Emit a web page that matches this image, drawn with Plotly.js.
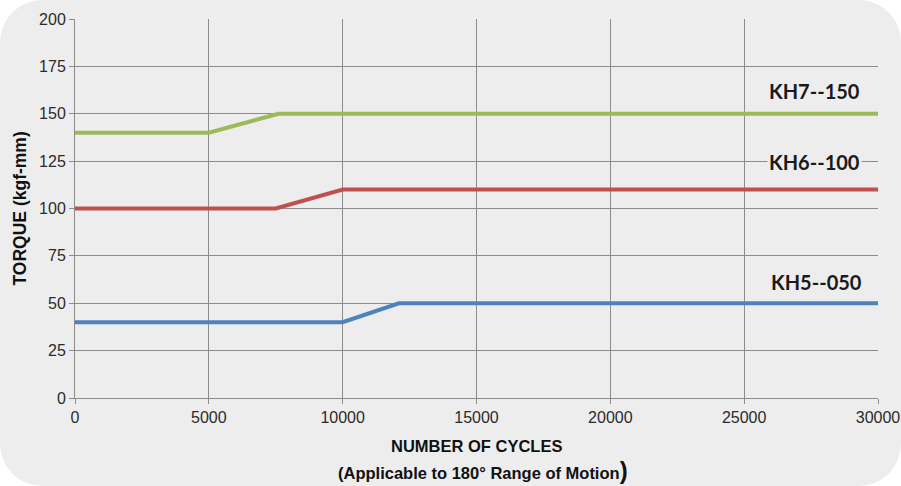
<!DOCTYPE html>
<html>
<head>
<meta charset="utf-8">
<script src="https://cdn.plot.ly/plotly-3.0.1.min.js"></script>
<style>
html,body{margin:0;padding:0;background:#ffffff;}
#chart{width:901px;height:486px;background:#ededed;border-radius:42px;overflow:hidden;}
</style>
</head>
<body>
<div id="chart"></div>
<script>
// Data
const seriesNames = ["KH7--150", "KH6--100", "KH5--050"];
const kh7Cycles = [0, 5000, 7600, 30000];
const kh7Torque = [140, 140, 150, 150];
const kh6Cycles = [0, 7500, 10000, 30000];
const kh6Torque = [100, 100, 110, 110];
const kh5Cycles = [0, 9800, 10000, 12100, 30000];
const kh5Torque = [40, 40, 40, 50, 50];
const yTicks = [0, 25, 50, 75, 100, 125, 150, 175, 200];
const xTicks = [0, 5000, 10000, 15000, 20000, 25000, 30000];
const labelX = [27630, 27630, 27720];
const labelY = [162, 124.3, 61.2];
const xTitle1 = "NUMBER OF CYCLES";
const xTitle2 = "(Applicable to 180° Range of Motion";
const yTitle = "TORQUE (kgf-mm)";

const colors = ["#9bbb59", "#c0504d", "#4f81bd"];
const xs = [kh7Cycles, kh6Cycles, kh5Cycles];
const ys = [kh7Torque, kh6Torque, kh5Torque];

const traces = xs.map((x, i) => ({
  x: x, y: ys[i], type: "scatter", mode: "lines", name: seriesNames[i],
  line: {color: colors[i], width: 4}, hoverinfo: "skip"
}));

const titleFont = {family: "'Liberation Sans', Arial, sans-serif", color: "#111111"};

const annotations = seriesNames.map((n, i) => ({
  x: labelX[i], y: labelY[i], xref: "x", yref: "y",
  text: "<b>" + n + "</b>", showarrow: false, bgcolor: "#ededed", borderpad: 1,
  font: {family: "Lato, 'Open Sans', sans-serif", size: 20, color: "#1a1a1a"}
})).concat([
  {x: 0.5, y: 0, xref: "paper", yref: "paper", yanchor: "middle", yshift: -48,
   text: "<b>" + xTitle1 + "</b>", showarrow: false,
   font: Object.assign({size: 16.5}, titleFont)},
  {x: 0.5, y: 0, xref: "paper", yref: "paper", yanchor: "middle", yshift: -72, xshift: 6,
   text: "<b>" + xTitle2 + "<span style='font-size:24px'>)</span></b>", showarrow: false,
   font: Object.assign({size: 16.5}, titleFont)},
  {x: 0, y: 0.5, xref: "paper", yref: "paper", xanchor: "center", yanchor: "middle", xshift: -56,
   textangle: -90, text: "<b>" + yTitle + "</b>", showarrow: false,
   font: Object.assign({size: 17.5}, titleFont)}
]);

const axisCommon = {
  showgrid: true, gridcolor: "#8c8c8c", gridwidth: 1,
  showline: true, linecolor: "#8c8c8c", linewidth: 1, zeroline: false,
  ticks: "outside", ticklen: 5, tickcolor: "#8c8c8c",
  tickfont: {size: 16, color: "#2b2b2b"}
};

const layout = {
  width: 901, height: 486,
  margin: {l: 75, r: 23, t: 19, b: 88},
  paper_bgcolor: "rgba(0,0,0,0)",
  plot_bgcolor: "rgba(0,0,0,0)",
  showlegend: false,
  font: {family: "'Liberation Sans', Arial, sans-serif", size: 16, color: "#2b2b2b"},
  xaxis: Object.assign({range: [0, 30000], tickvals: xTicks, ticktext: xTicks.map(String)}, axisCommon),
  yaxis: Object.assign({range: [0, 200], tickvals: yTicks}, axisCommon),
  annotations: annotations
};

Plotly.newPlot("chart", traces, layout, {staticPlot: true});
</script>
</body>
</html>
